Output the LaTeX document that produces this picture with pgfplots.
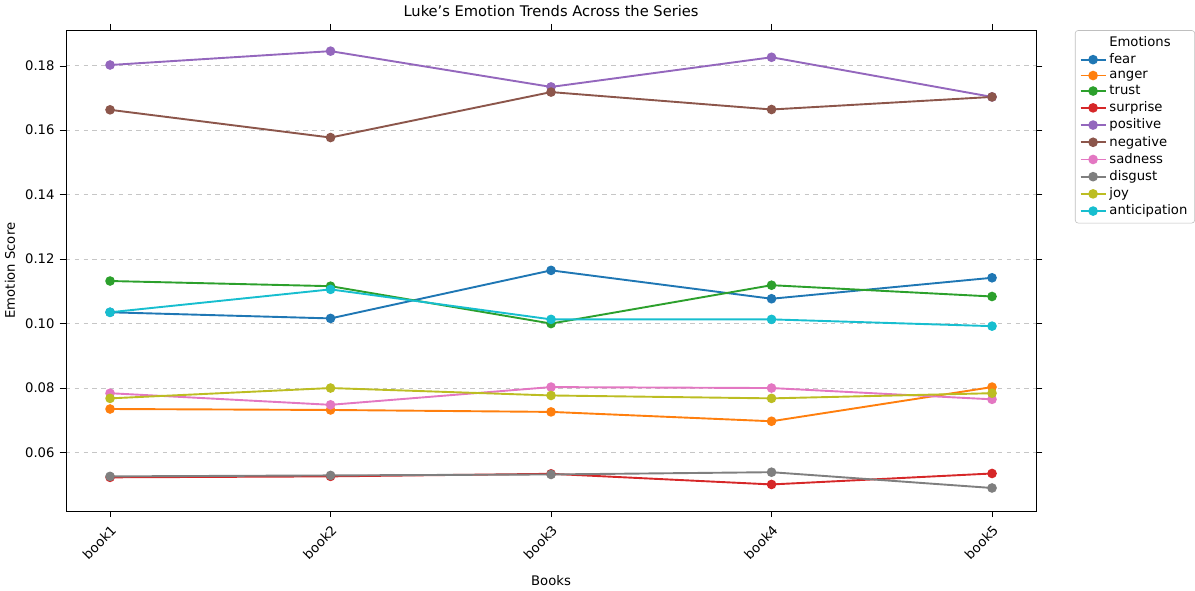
\documentclass[border=0pt]{standalone}
\usepackage{pgfplots}
\pgfplotsset{compat=1.18}
\usepackage{fontspec}
\setmainfont{DejaVu Sans}
\definecolor{c1}{HTML}{1F77B4}\definecolor{c2}{HTML}{FF7F0E}\definecolor{c3}{HTML}{2CA02C}
\definecolor{c4}{HTML}{D62728}\definecolor{c5}{HTML}{9467BD}\definecolor{c6}{HTML}{8C564B}
\definecolor{c7}{HTML}{E377C2}\definecolor{c8}{HTML}{7F7F7F}\definecolor{c9}{HTML}{BCBD22}
\definecolor{c10}{HTML}{17BECF}
\begin{document}
\begin{tikzpicture}
\begin{axis}[
  width=662pt, height=328pt, scale only axis,
  xmin=-0.2, xmax=4.2, ymin=0.0419, ymax=0.191,
  xtick={0,1,2,3,4}, xticklabels={book1,book2,book3,book4,book5},
  xticklabel style={rotate=45, anchor=north east, font=\small},
  ytick={0.06,0.08,0.10,0.12,0.14,0.16,0.18},
  yticklabel style={font=\small, /pgf/number format/.cd, fixed, fixed zerofill, precision=2},
  /pgf/number format/assume math mode=true,
  ymajorgrids, grid style={dashed, gray!45},
  tick align=outside, tick style={black},
  xlabel={\small Books}, ylabel={\small Emotion Score},
  xlabel style={yshift=-2pt},
  title={Luke's Emotion Trends Across the Series},
  legend style={at={(1.04,1)}, anchor=north west, font=\small, draw=gray!50, rounded corners=2pt, cells={anchor=west}, row sep=-0.6pt},
  every axis plot/.append style={line width=1.3pt, mark=*, mark size=2.6pt},
]
\addlegendimage{empty legend}\addlegendentry{\hspace{-1.2em}\phantom{xx}Emotions}
\addplot[c1, mark options={fill=c1}] coordinates {(0,0.1035)(1,0.1016)(2,0.1165)(3,0.1077)(4,0.1142)};\addlegendentry{fear}
\addplot[c2, mark options={fill=c2}] coordinates {(0,0.0735)(1,0.0732)(2,0.0726)(3,0.0697)(4,0.0803)};\addlegendentry{anger}
\addplot[c3, mark options={fill=c3}] coordinates {(0,0.1132)(1,0.1116)(2,0.1000)(3,0.1119)(4,0.1084)};\addlegendentry{trust}
\addplot[c4, mark options={fill=c4}] coordinates {(0,0.0523)(1,0.0526)(2,0.0534)(3,0.0501)(4,0.0535)};\addlegendentry{surprise}
\addplot[c5, mark options={fill=c5}] coordinates {(0,0.1802)(1,0.1845)(2,0.1734)(3,0.1826)(4,0.1703)};\addlegendentry{positive}
\addplot[c6, mark options={fill=c6}] coordinates {(0,0.1663)(1,0.1577)(2,0.1718)(3,0.1664)(4,0.1703)};\addlegendentry{negative}
\addplot[c7, mark options={fill=c7}] coordinates {(0,0.0784)(1,0.0748)(2,0.0803)(3,0.0800)(4,0.0765)};\addlegendentry{sadness}
\addplot[c8, mark options={fill=c8}] coordinates {(0,0.0526)(1,0.0529)(2,0.0532)(3,0.0539)(4,0.0490)};\addlegendentry{disgust}
\addplot[c9, mark options={fill=c9}] coordinates {(0,0.0768)(1,0.0800)(2,0.0777)(3,0.0768)(4,0.0784)};\addlegendentry{joy}
\addplot[c10, mark options={fill=c10}] coordinates {(0,0.1035)(1,0.1106)(2,0.1013)(3,0.1013)(4,0.0992)};\addlegendentry{anticipation}
\end{axis}
\end{tikzpicture}
\end{document}
